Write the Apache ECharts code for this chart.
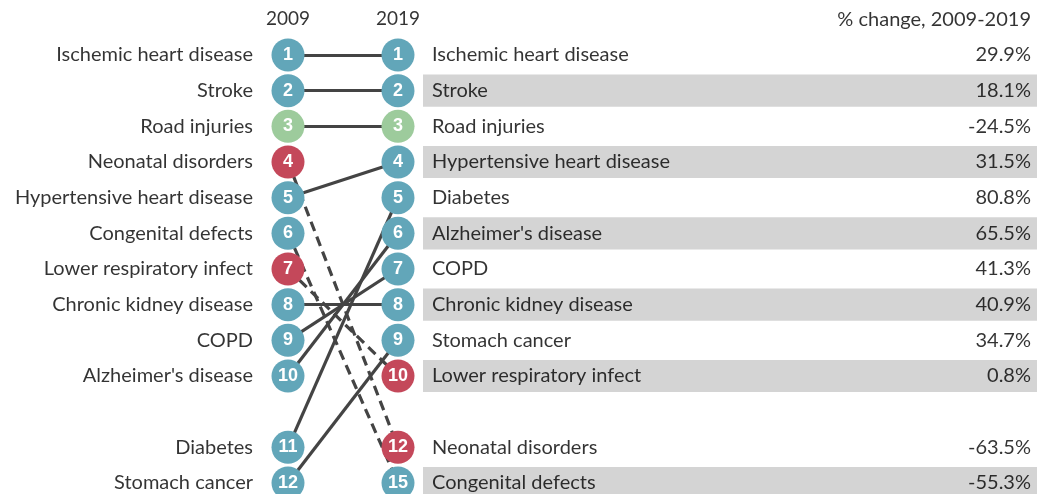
<!DOCTYPE html>
<html>
<head>
<meta charset="utf-8">
<script src="https://cdn.jsdelivr.net/npm/echarts@6/dist/echarts.min.js"></script>
<style>
html,body{margin:0;padding:0;background:#fff;}
#chart{width:1039px;height:494px;}
</style>
</head>
<body>
<div id="chart"></div>
<script>
// ---- data ----
var causes = ["Ischemic heart disease","Stroke","Road injuries","Neonatal disorders","Hypertensive heart disease","Congenital defects","Lower respiratory infect","Chronic kidney disease","COPD","Alzheimer's disease","Diabetes","Stomach cancer"];
var rank2009 = [1,2,3,4,5,6,7,8,9,10,11,12];
var rank2019 = [1,2,3,12,4,15,10,8,7,6,5,9];
var groups = ["ncd","ncd","inj","comm","ncd","ncd","comm","ncd","ncd","ncd","ncd","ncd"];
var pctChange = [29.9,18.1,-24.5,-63.5,31.5,-55.3,0.8,40.9,41.3,65.5,80.8,34.7];
var years = ["2009","2019"];
var tableHeader = "% change, 2009-2019";

// ---- styling ----
var groupColor = {ncd:"#62a6b9", comm:"#c4485a", inj:"#9dcb9c"};
var FONT = "Lato, 'Open Sans', sans-serif";
var FS = 20;
var TOPN = 10;

// display slot: top 10 by rank, a blank slot, then the rest in rank order
function slots(ranks){
  var rest = ranks.filter(function(r){return r>TOPN;}).sort(function(a,b){return a-b;});
  return ranks.map(function(r){ return r<=TOPN ? r : TOPN+1+rest.indexOf(r)+1; });
}
var slotL = slots(rank2009), slotR = slots(rank2019);

var leftPts = causes.map(function(c,i){return {value:[0,slotL[i]], name:c, rank:rank2009[i], itemStyle:{color:groupColor[groups[i]], opacity:1}};});
var rightPts = causes.map(function(c,i){return {value:[1,slotR[i]], name:c, rank:rank2019[i], itemStyle:{color:groupColor[groups[i]], opacity:1}};});
var links = causes.map(function(c,i){
  return {coords:[[0,slotL[i]],[1,slotR[i]]], lineStyle:{type: rank2019[i]>rank2009[i] ? [10,6] : 'solid'}};
});
var order = causes.map(function(c,i){return i;}).sort(function(a,b){return rank2019[a]-rank2019[b];});
var bands = order.map(function(i,k){return {value:[slotR[i], k%2]};}).filter(function(d){return d.value[1]===1;});
var tableNames = order.map(function(i){return {value:[0,slotR[i]], name:causes[i]};});
var tableVals = order.map(function(i){return {value:[1,slotR[i]], name:pctChange[i].toFixed(1)+'%'};});

var numLabel = {show:true, position:'inside', formatter:function(p){return p.data.rank;}, color:'#fff', fontFamily:'Arial, "Liberation Sans", sans-serif', fontWeight:'bold', fontSize:18};

var chart = echarts.init(document.getElementById('chart'));
var yTop = 55 - 35.67;
chart.setOption({
  animation:false,
  grid:[
    {left:288, right:1039-398, top:yTop, bottom:11},
    {left:423, right:2, top:yTop, bottom:11}
  ],
  xAxis:[
    {gridIndex:0, type:'value', min:0, max:1, show:false},
    {gridIndex:1, type:'value', min:0, max:1, show:false}
  ],
  yAxis:[
    {gridIndex:0, type:'value', min:0, max:13, inverse:true, show:false},
    {gridIndex:1, type:'value', min:0, max:13, inverse:true, show:false}
  ],
  series:[
    {
      type:'custom', xAxisIndex:1, yAxisIndex:1, z:1,
      data:bands,
      renderItem:function(params, api){
        var s = api.value(0);
        var p0 = api.coord([0, s-0.45]);
        var p1 = api.coord([1, s+0.45]);
        return {type:'rect', shape:{x:p0[0], y:p0[1], width:p1[0]-p0[0], height:p1[1]-p0[1]}, style:{fill:'#d4d4d4'}};
      }
    },
    {
      type:'lines', coordinateSystem:'cartesian2d', xAxisIndex:0, yAxisIndex:0, z:2,
      polyline:false,
      lineStyle:{color:'#444', width:3.2, opacity:1},
      data:links
    },
    {
      type:'scatter', xAxisIndex:0, yAxisIndex:0, z:3, symbol:'circle', symbolSize:33,
      data:leftPts, label:numLabel
    },
    {
      type:'scatter', xAxisIndex:0, yAxisIndex:0, z:3, symbol:'circle', symbolSize:0, silent:true,
      data:leftPts.map(function(d){return {value:d.value, name:d.name};}),
      label:{show:true, position:'left', distance:35, formatter:'{b}', color:'#000', fontFamily:FONT, fontSize:FS}
    },
    {
      type:'scatter', xAxisIndex:0, yAxisIndex:0, z:3, symbol:'circle', symbolSize:33,
      data:rightPts, label:numLabel
    },
    {
      type:'scatter', xAxisIndex:0, yAxisIndex:0, z:3, symbolSize:0, silent:true,
      data:years.map(function(y,i){return {value:[i,0], name:y};}),
      label:{show:true, position:'inside', formatter:'{b}', color:'#000', fontFamily:FONT, fontSize:19}
    },
    {
      type:'scatter', xAxisIndex:1, yAxisIndex:1, z:3, symbolSize:0, silent:true,
      data:tableNames,
      label:{show:true, position:'right', distance:9, formatter:'{b}', color:'#000', fontFamily:FONT, fontSize:FS}
    },
    {
      type:'scatter', xAxisIndex:1, yAxisIndex:1, z:3, symbolSize:0, silent:true,
      data:tableVals.concat([{value:[1,0], name:tableHeader}]),
      label:{show:true, position:'left', distance:6, formatter:'{b}', color:'#000', fontFamily:FONT, fontSize:FS}
    }
  ]
});
</script>
</body>
</html>
